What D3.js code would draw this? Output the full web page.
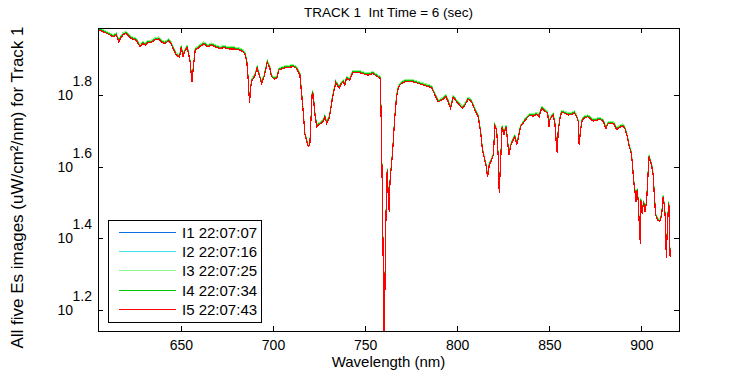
<!DOCTYPE html>
<html>
<head>
<meta charset="utf-8">
<script src="https://cdn.jsdelivr.net/npm/d3@7"></script>
<style>
body { margin: 0; background: #fff; }
text { font-family: "Liberation Sans", Arial, Helvetica, sans-serif; fill: #000; }
</style>
</head>
<body>
<script>
//data (I5, drawn on top)
var wavelength = [605.5,607.7,610.4,613.1,614.9,616.3,617.6,618.5,620.3,622.1,623.9,625.7,627.9,629.4,630.6,632.1,633.9,635.7,637.9,639.7,
  641.2,643.3,644.7,646.2,647.4,649.3,650.2,651.1,652.0,653.3,654.3,655.0,656.0,656.9,657.8,659.2,661.0,662.5,664.7,666.5,
  668.6,671.0,673.7,676.4,679.2,681.9,683.7,684.9,685.8,686.4,686.9,687.3,687.8,688.7,690.0,691.4,693.8,695.2,696.9,698.3,
  699.2,700.6,702.0,703.2,704.7,706.5,708.3,711.0,712.8,714.6,715.5,716.4,717.3,719.1,720.0,720.6,721.3,721.8,722.7,723.7,
  725.5,727.3,728.2,729.1,730.5,731.3,732.4,733.2,734.1,734.9,735.9,737.2,738.1,739.0,740.0,741.7,743.2,745.4,747.2,749.9,
  751.7,754.1,756.2,758.3,758.9,759.5,760.0,760.4,760.7,761.1,761.7,762.0,762.5,763.1,763.5,764.2,764.9,765.6,766.3,767.1,
  768.0,768.9,770.7,773.4,776.1,778.8,781.5,784.3,786.1,787.9,789.1,789.7,792.4,793.9,795.1,796.4,797.8,799.7,801.5,802.9,
  804.2,806.0,807.8,809.6,811.4,812.7,813.6,814.5,815.6,816.5,817.4,818.7,819.6,820.5,821.4,822.3,822.8,823.6,824.4,825.4,
  826.4,827.1,828.1,829.2,830.4,831.3,832.3,833.1,834.4,835.8,837.7,839.5,841.3,843.1,844.5,845.8,847.6,849.1,849.8,850.3,
  851.3,852.1,853.0,854.0,854.3,854.8,855.8,856.7,858.5,860.3,862.1,863.5,864.8,865.7,866.2,867.0,867.9,869.3,870.8,872.0,
  873.8,875.7,877.5,879.3,880.7,882.0,883.8,885.1,886.5,888.3,889.6,891.0,892.3,893.4,894.3,895.0,895.8,896.5,897.0,897.7,
  898.3,898.8,899.4,899.7,900.4,901.2,901.9,902.8,903.4,904.1,904.8,905.5,906.4,907.0,907.7,908.8,910.0,911.0,911.8,912.4,
  913.1,913.5,914.0,914.6,914.9,915.3,915.6];

var irradiance = [95.8,94.8,93.4,91.8,92.8,88.9,91.4,92.8,93.8,91.4,90.4,89.8,86.0,87.9,87.0,88.5,88.5,89.8,90.4,88.5,
  87.9,89.3,87.6,84.2,81.6,80.4,86.0,80.7,83.3,85.5,81.6,78.1,68.7,76.5,84.2,85.2,86.6,87.6,86.0,87.0,
  86.0,85.2,85.5,84.8,84.8,84.2,83.3,81.9,78.1,71.0,64.4,59.8,65.9,69.5,71.0,74.9,68.0,71.0,77.8,74.9,
  71.0,69.9,70.2,74.1,74.6,75.2,75.4,75.7,74.9,71.7,63.8,56.7,49.0,45.3,45.8,53.7,64.4,63.1,56.1,51.5,
  52.4,53.2,54.9,52.6,54.3,57.3,62.4,65.2,68.3,67.3,65.9,68.0,68.7,67.3,70.2,69.5,72.8,73.0,72.8,72.1,
  71.7,72.5,71.3,70.2,48.1,29.8,18.0,12.0,17.1,25.4,35.0,39.0,33.6,29.8,35.8,39.8,43.4,49.8,56.1,62.4,
  65.9,67.3,68.5,69.0,68.7,68.0,67.3,66.6,66.1,63.1,61.1,60.4,61.4,62.4,60.4,57.9,62.2,60.4,58.9,57.9,
  59.2,61.4,60.4,57.3,54.9,49.8,44.8,42.5,40.2,37.3,40.2,41.6,42.9,51.5,50.4,42.0,33.6,41.6,51.5,48.8,
  51.5,48.3,42.9,45.8,47.3,48.3,45.8,47.8,51.5,52.6,54.3,55.5,55.1,55.7,54.9,57.9,56.9,56.1,51.5,53.7,
  54.9,55.5,52.6,44.8,43.4,49.8,54.3,56.5,56.1,55.5,55.7,56.3,54.9,53.2,45.8,50.4,53.7,54.5,54.9,54.3,
  53.4,53.7,54.0,53.2,50.9,52.6,52.6,52.3,50.6,51.3,51.7,50.9,48.3,45.3,43.8,41.1,36.2,33.9,31.8,34.3,
  31.8,27.7,24.3,32.1,29.5,31.8,29.8,31.8,36.2,42.5,41.1,40.2,37.7,33.2,29.2,28.3,28.0,29.2,32.8,31.1,
  28.0,22.1,26.2,30.5,31.5,25.1,22.3];

var seriesNames = ["I1 22:07:07", "I2 22:07:16", "I3 22:07:25", "I4 22:07:34", "I5 22:07:43"];
var seriesColors = ["#0a6fe0", "#3edfe6", "#8cf58c", "#00c800", "#ff0000"];
//level of each image relative to I5
var seriesGain = [1.006, 1.010, 1.013, 1.006, 1.0];

var xTicks = [650, 700, 750, 800, 850, 900];
var yTickExponents = [1.2, 1.4, 1.6, 1.8];

var margin = {top: 28, right: 71, bottom: 44, left: 98},
    width = 750 - margin.left - margin.right,
    height = 375 - margin.top - margin.bottom;

var svg = d3.select("body").append("svg")
    .attr("width", 750)
    .attr("height", 375);

var g = svg.append("g")
    .attr("transform", "translate(" + margin.left + "," + margin.top + ")");

var x = d3.scaleLinear().domain([605, 920.4]).range([0, width]);
var y = d3.scaleLog().domain([Math.pow(10, 1.142), Math.pow(10, 1.987)]).range([height, 0]);

g.append("clipPath").attr("id", "plotclip")
  .append("rect").attr("width", width).attr("height", height);

var line = d3.line()
    .x(function(d) { return x(d.w); })
    .y(function(d) { return y(d.v); });

var series = seriesNames.map(function(name, k) {
    return wavelength.map(function(w, i) { return {w: w, v: irradiance[i] * seriesGain[k]}; });
});

g.append("g").attr("clip-path", "url(#plotclip)")
  .selectAll("path")
  .data(series)
  .enter().append("path")
    .attr("d", line)
    .attr("fill", "none")
    .attr("stroke", function(d, k) { return seriesColors[k]; })
    .attr("stroke-width", 1.2)
    .attr("shape-rendering", "crispEdges");

// axes, ticks inside like matlab
var xAxis = g.append("g")
    .attr("transform", "translate(0," + height + ")")
    .call(d3.axisBottom(x).tickValues(xTicks).tickSizeInner(-5).tickSizeOuter(0).tickPadding(9));
xAxis.selectAll("text").style("font-size", "14px");

g.append("g")
    .call(d3.axisTop(x).tickValues(xTicks).tickSizeInner(-5).tickSizeOuter(0).tickFormat(""));

var yAxis = g.append("g")
    .call(d3.axisLeft(y).tickValues(yTickExponents.map(function(e) { return Math.pow(10, e); }))
      .tickSizeInner(-5).tickSizeOuter(0).tickFormat(""));

g.append("g")
    .attr("transform", "translate(" + width + ",0)")
    .call(d3.axisRight(y).tickValues(yTickExponents.map(function(e) { return Math.pow(10, e); }))
      .tickSizeInner(-5).tickSizeOuter(0).tickFormat(""));

g.selectAll(".domain").remove();
g.selectAll(".tick line").attr("stroke", "#000").attr("shape-rendering", "crispEdges");

// 10^x labels
yTickExponents.forEach(function(e) {
    var ty = y(Math.pow(10, e));
    g.append("text")
        .attr("x", -25)
        .attr("y", ty + 5)
        .attr("text-anchor", "end")
        .style("font-size", "14px")
        .text("10");
    g.append("text")
        .attr("x", -6)
        .attr("y", ty - 9)
        .attr("text-anchor", "end")
        .style("font-size", "14px")
        .text(e.toFixed(1));
});

g.append("rect")
    .attr("width", width)
    .attr("height", height)
    .attr("fill", "none")
    .attr("stroke", "#000")
    .attr("shape-rendering", "crispEdges");

// title and labels
svg.append("text")
    .attr("x", margin.left + width / 2)
    .attr("y", 17)
    .attr("text-anchor", "middle")
    .attr("xml:space", "preserve")
    .style("font-size", "13.5px")
    .text("TRACK 1  Int Time = 6 (sec)");

svg.append("text")
    .attr("x", margin.left + width / 2)
    .attr("y", 367)
    .attr("text-anchor", "middle")
    .style("font-size", "15px")
    .text("Wavelength (nm)");

svg.append("text")
    .attr("transform", "translate(23," + (margin.top + height / 2 + 8) + ") rotate(-90)")
    .attr("text-anchor", "middle")
    .style("font-size", "17px")
    .text("All five Es images (uW/cm\u00b2/nm) for Track 1");

// legend
var legend = g.append("g").attr("transform", "translate(10,192)");
legend.append("rect")
    .attr("width", 153)
    .attr("height", 102)
    .attr("fill", "#fff")
    .attr("stroke", "#000")
    .attr("shape-rendering", "crispEdges");

var rows = legend.selectAll(".row")
    .data(seriesNames)
    .enter().append("g")
    .attr("class", "row")
    .attr("transform", function(d, i) { return "translate(0," + (12.5 + i * 19.2) + ")"; });

rows.append("line")
    .attr("x1", 11).attr("x2", 68)
    .attr("stroke", function(d, i) { return seriesColors[i]; })
    .attr("stroke-width", 1)
    .attr("shape-rendering", "crispEdges");

rows.append("text")
    .attr("x", 74)
    .attr("y", 5.5)
    .style("font-size", "15px")
    .text(function(d) { return d; });
</script>
</body>
</html>
